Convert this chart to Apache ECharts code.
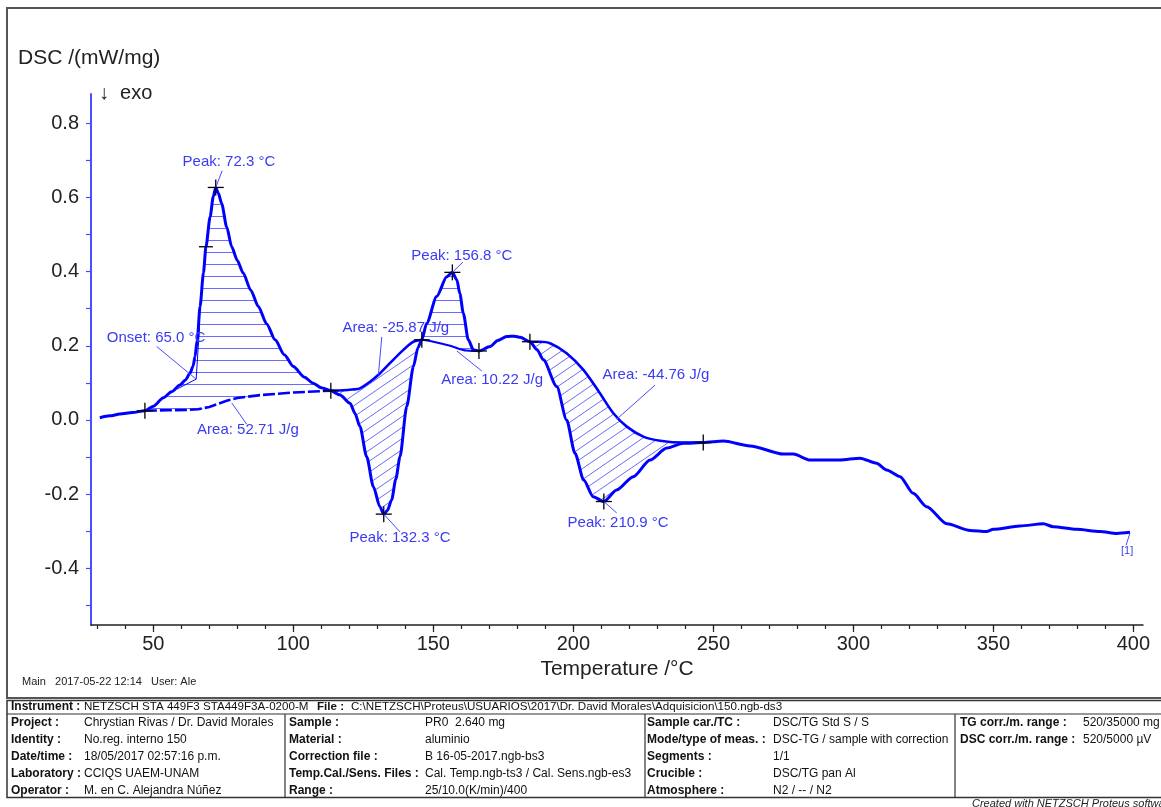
<!DOCTYPE html>
<html>
<head>
<meta charset="utf-8">
<script src="https://cdn.jsdelivr.net/npm/echarts@6/dist/echarts.min.js"></script>
<style>
  html, body { margin: 0; padding: 0; background: #fff; }
  #chart { width: 1161px; height: 807px; }
</style>
</head>
<body>
<div id="chart"></div>
<script>
// DSC signal (temperature °C, mW/mg)
const dscCurve = [
  [30.9,0.006],[34.5,0.011],[38.1,0.016],[42.5,0.020],[47.0,0.025],[50.0,0.037],[53.6,0.060],[56.5,0.076],
  [59.5,0.094],[61.5,0.108],[63.1,0.126],[64.2,0.145],[64.9,0.171],[65.7,0.216],[66.7,0.306],[67.9,0.396],
  [68.8,0.467],[70.3,0.548],[71.4,0.602],[72.3,0.627],[73.2,0.612],[74.4,0.584],[76.2,0.521],[78.0,0.467],
  [80.0,0.430],[82.1,0.396],[84.8,0.350],[87.5,0.306],[90.5,0.259],[93.5,0.216],[96.8,0.176],[100.0,0.144],
  [104.0,0.115],[107.1,0.099],[110.0,0.087],[113.4,0.079],
  [116.7,0.067],[120.3,0.045],[122.0,0.018],[123.8,-0.018],[126.2,-0.099],[128.6,-0.180],[130.9,-0.234],
  [132.3,-0.254],[133.6,-0.244],[135.1,-0.216],[136.6,-0.160],[138.1,-0.099],[140.5,0.036],[142.9,0.144],
  [144.5,0.195],[145.9,0.216],
  [147.6,0.260],[151.2,0.333],[154.8,0.386],[156.8,0.398],[158.4,0.378],[159.5,0.340],[160.7,0.288],
  [162.5,0.216],[164.3,0.189],[166.3,0.186],
  [170.3,0.198],[173.0,0.214],[176.2,0.225],[179.0,0.226],[181.0,0.223],[184.5,0.211],
  [187.0,0.190],[189.3,0.162],[194.1,0.090],[197.6,0.000],[200.6,-0.090],[203.7,-0.162],[207.1,-0.207],
  [210.9,-0.220],[215.5,-0.189],[221.4,-0.153],[227.4,-0.108],[233.4,-0.076],[239.3,-0.063],[246.4,-0.061],
  [253.6,-0.057],[263.1,-0.070],[275.0,-0.092],[278.6,-0.092],[284.5,-0.108],[295.2,-0.108],[302.4,-0.103],
  [308.3,-0.117],[311.9,-0.135],[316.7,-0.153],[321.4,-0.198],[326.2,-0.234],[333.4,-0.280],[341.7,-0.298],
  [347.6,-0.301],[350.0,-0.295],[359.5,-0.286],[367.9,-0.280],[371.4,-0.288],[379.8,-0.295],[388.1,-0.301],
  [394.1,-0.306],[398.8,-0.303]
];

// integration baselines of the four evaluated effects
const baseline1 = [[47.0,0.025],[55,0.026],[62,0.027],[66,0.029],[70,0.035],[73,0.043],[76.2,0.052],[80,0.059],[88.1,0.067],[100,0.074],[113.4,0.079]];
const baseline2 = [[113.4,0.079],[118,0.080],[121,0.082],[123.8,0.085],[127.4,0.103],[131,0.126],[134.5,0.153],[139.3,0.189],[142.9,0.211],[145.9,0.216]];
const baseline3 = [[145.9,0.216],[150,0.211],[156,0.200],[161.9,0.187],[166.3,0.186]];
const baseline4 = [[184.5,0.211],[188,0.211],[191.7,0.207],[197.6,0.180],[203.6,0.135],[209.5,0.072],[214.3,0.018],[219.1,-0.018],[225,-0.045],[231,-0.056],[239.3,-0.061],[246.4,-0.061]];

// evaluation limits and peak points
const crossPoints = [[47.0,0.025],[72.3,0.627],[113.4,0.079],[132.3,-0.254],[145.9,0.216],[156.8,0.398],[166.3,0.186],[184.5,0.211],[210.9,-0.220],[246.4,-0.061]];
const inflectionPoints = [[68.8,0.467]];
const onsetPoint = [65.3,0.110];

// axis ticks
const xLabelValues = [50,100,150,200,250,300,350,400];
const xMinorValues = [30,40,50,60,70,80,90,100,110,120,130,140,150,160,170,180,190,200,210,220,230,240,250,260,270,280,290,300,310,320,330,340,350,360,370,380,390,400];
const yLabelValues = [-0.4,-0.2,0,0.2,0.4,0.6,0.8];
const yTickValues = [-0.5,-0.4,-0.3,-0.2,-0.1,0,0.1,0.2,0.3,0.4,0.5,0.6,0.7,0.8];

// result texts
const noteTexts = ['Peak: 72.3 °C','Onset: 65.0 °C','Area: 52.71 J/g','Area: -25.87 J/g','Area: 10.22 J/g',
  'Peak: 156.8 °C','Peak: 132.3 °C','Area: -44.76 J/g','Peak: 210.9 °C','[1]'];

// where each result text sits and where its leader points (data units)
const noteLayout = [
  {at:[77.0,0.696],  from:[74.6,0.672],  to:[72.3,0.627]},
  {at:[51.0,0.221],  from:[51.2,0.198],  to:[65.3,0.110]},
  {at:[83.8,-0.027], from:[83.4,-0.012], to:[78.0,0.046]},
  {at:[136.6,0.248], from:[131.6,0.224], to:[130.4,0.122]},
  {at:[171.0,0.108], from:[167.3,0.132], to:[158.4,0.186]},
  {at:[160.2,0.442], from:[160.6,0.426], to:[156.8,0.398]},
  {at:[138.1,-0.318],from:[138.1,-0.302],to:[132.3,-0.254]},
  {at:[229.5,0.121], from:[229.2,0.094], to:[215.5,0.002]},
  {at:[216.0,-0.278],from:[215.5,-0.251],to:[210.9,-0.220]},
  {at:[397.8,-0.353],from:[397.4,-0.338],to:[398.8,-0.305]}
];

const hatchRegions = [
  {from:47.0,  to:113.4, base:baseline1, hatch:'h'},
  {from:113.4, to:145.9, base:baseline2, hatch:'d'},
  {from:145.9, to:166.3, base:baseline3, hatch:'h'},
  {from:184.5, to:246.4, base:baseline4, hatch:'d'}
];

const BLUE = '#0000ff';
const TEXT_BLUE = '#3b3bf2';
const FONT = "'Liberation Sans', Arial, sans-serif";

function makeHatch(kind) {
  const c = document.createElement('canvas');
  const w = kind === 'h' ? 8 : 16;
  const h = kind === 'h' ? 12 : 11;
  c.width = w; c.height = h;
  const ctx = c.getContext('2d');
  ctx.strokeStyle = '#6a6aff';
  ctx.lineWidth = 1;
  ctx.beginPath();
  if (kind === 'h') {
    ctx.moveTo(0, 0.5); ctx.lineTo(w, 0.5);
  } else {
    ctx.moveTo(-w, 2 * h); ctx.lineTo(2 * w, -h);
    ctx.moveTo(-2 * w, 2 * h); ctx.lineTo(w, -h);
    ctx.moveTo(0, 2 * h); ctx.lineTo(3 * w, -h);
  }
  ctx.stroke();
  return c;
}
const patterns = { h: makeHatch('h'), d: makeHatch('d') };

const chart = echarts.init(document.getElementById('chart'), null, { renderer: 'canvas' });

function tableText(x, y, text, bold, size) {
  return { type: 'text', x: x, y: y, style: { text: text, font: (bold ? 'bold ' : '') + (size || 12) + 'px ' + FONT, fill: '#111', verticalAlign: 'middle' } };
}

const tableRows = [
  [['Project :','Chrystian Rivas / Dr. David Morales'],['Sample :','PR0  2.640 mg'],['Sample car./TC :','DSC/TG Std S / S'],['TG corr./m. range :','520/35000 mg']],
  [['Identity :','No.reg. interno 150'],['Material :','aluminio'],['Mode/type of meas. :','DSC-TG / sample with correction'],['DSC corr./m. range :','520/5000 µV']],
  [['Date/time :','18/05/2017 02:57:16 p.m.'],['Correction file :','B 16-05-2017.ngb-bs3'],['Segments :','1/1'],null],
  [['Laboratory :','CCIQS UAEM-UNAM'],['Temp.Cal./Sens. Files :','Cal. Temp.ngb-ts3 / Cal. Sens.ngb-es3'],['Crucible :','DSC/TG pan Al'],null],
  [['Operator :','M. en C. Alejandra Núñez'],['Range :','25/10.0(K/min)/400'],['Atmosphere :','N2 / -- / N2'],null]
];
const colLabelX = [11, 289, 647, 960];
const colValueX = [84, 425, 773, 1083];
const tableGraphics = [];
tableRows.forEach((row, r) => {
  const y = 723 + r * 16.8;
  row.forEach((cell, c) => {
    if (!cell) return;
    tableGraphics.push(tableText(colLabelX[c], y, cell[0], true));
    tableGraphics.push(tableText(colValueX[c], y, cell[1], false));
  });
});
tableGraphics.push(tableText(11, 707, 'Instrument :', true));
tableGraphics.push(tableText(84, 707, 'NETZSCH STA 449F3 STA449F3A-0200-M', false, 11.6));
tableGraphics.push(tableText(317, 707, 'File :', true, 11.6));
tableGraphics.push(tableText(351, 707, 'C:\\NETZSCH\\Proteus\\USUARIOS\\2017\\Dr. David Morales\\Adquisicion\\150.ngb-ds3', false, 11.6));

const option = {
  animation: false,
  backgroundColor: '#fff',
  grid: { left: 91, top: 94, width: 1052, height: 531, containLabel: false },
  xAxis: [
    {
      type: 'value', min: 27.75, max: 403.45,
      name: 'Temperature /°C', nameLocation: 'middle', nameGap: 31,
      nameTextStyle: { fontSize: 21, color: '#222', fontFamily: FONT },
      axisLine: { show: true, onZero: false, lineStyle: { color: '#222', width: 1.5 } },
      axisTick: { show: true, length: 7, customValues: xLabelValues, lineStyle: { color: '#222', width: 1.2 } },
      axisLabel: { customValues: xLabelValues, fontSize: 20, color: '#222', fontFamily: FONT, margin: 9 },
      splitLine: { show: false }
    },
    {
      type: 'value', min: 27.75, max: 403.45, position: 'bottom',
      axisLine: { show: false, onZero: false },
      axisTick: { show: true, length: 4, customValues: xMinorValues, lineStyle: { color: '#222', width: 1.2 } },
      axisLabel: { show: false },
      splitLine: { show: false }
    }
  ],
  yAxis: {
    type: 'value', min: -0.553, max: 0.879,
    axisLine: { show: true, onZero: false, lineStyle: { color: '#4d4dff', width: 2 } },
    axisTick: { show: true, length: 5, customValues: yTickValues, lineStyle: { color: '#4d4dff', width: 1.2 } },
    axisLabel: { customValues: yLabelValues, fontSize: 20, color: '#222', fontFamily: FONT, margin: 12,
      formatter: v => (Math.abs(v) < 1e-9 ? 0 : v).toFixed(1) },
    splitLine: { show: false }
  },
  graphic: [
    { type: 'rect', shape: { x: 7, y: 8, width: 1170, height: 690 }, style: { fill: 'none', stroke: '#555', lineWidth: 2 }, silent: true },
    { type: 'rect', shape: { x: 7, y: 700.5, width: 1170, height: 97 }, style: { fill: 'none', stroke: '#333', lineWidth: 1.5 }, silent: true },
    { type: 'line', shape: { x1: 7, y1: 714, x2: 1170, y2: 714 }, style: { stroke: '#333', lineWidth: 1.2 } },
    { type: 'line', shape: { x1: 285, y1: 714, x2: 285, y2: 797 }, style: { stroke: '#333', lineWidth: 1.2 } },
    { type: 'line', shape: { x1: 645, y1: 714, x2: 645, y2: 797 }, style: { stroke: '#333', lineWidth: 1.2 } },
    { type: 'line', shape: { x1: 955, y1: 714, x2: 955, y2: 797 }, style: { stroke: '#333', lineWidth: 1.2 } },
    { type: 'text', x: 18, y: 58, style: { text: 'DSC /(mW/mg)', font: '21px ' + FONT, fill: '#222', verticalAlign: 'middle' } },
    { type: 'text', x: 99, y: 93, style: { text: '↓  exo', font: '20px ' + FONT, fill: '#222', verticalAlign: 'middle' } },
    { type: 'text', x: 22, y: 682, style: { text: 'Main   2017-05-22 12:14   User: Ale', font: '11px ' + FONT, fill: '#222', verticalAlign: 'middle' } },
    { type: 'text', x: 972, y: 804, style: { text: 'Created with NETZSCH Proteus software', font: 'italic 11px ' + FONT, fill: '#222', verticalAlign: 'middle' } }
  ].concat(tableGraphics),
  series: [
    {
      // hatched peak areas between signal and baseline
      type: 'custom', xAxisIndex: 0, yAxisIndex: 0, z: 1, silent: true,
      data: hatchRegions.map(r => [r.from, r.base[0][1]]),
      renderItem: (params, api) => {
        const r = hatchRegions[params.dataIndex];
        const upper = dscCurve.filter(p => p[0] >= r.from - 1e-6 && p[0] <= r.to + 1e-6);
        const pts = upper.concat(r.base.slice().reverse()).map(p => api.coord(p));
        return { type: 'polygon', shape: { points: pts },
          style: { fill: { image: patterns[r.hatch], repeat: 'repeat' }, stroke: null } };
      }
    },
    {
      type: 'line', name: 'baseline1', data: baseline1, showSymbol: false, z: 3,
      lineStyle: { color: BLUE, width: 2.6, type: [12, 3] }
    },
    { type: 'line', name: 'baseline2', data: baseline2, showSymbol: false, z: 3, smooth: 0.3, lineStyle: { color: BLUE, width: 2.6 } },
    { type: 'line', name: 'baseline3', data: baseline3, showSymbol: false, z: 3, smooth: 0.3, lineStyle: { color: BLUE, width: 2 } },
    { type: 'line', name: 'baseline4', data: baseline4, showSymbol: false, z: 3, smooth: 0.3, lineStyle: { color: BLUE, width: 2.6 } },
    {
      type: 'line', name: 'DSC', data: dscCurve, showSymbol: false, z: 4,
      smooth: 0.25, smoothMonotone: 'x',
      lineStyle: { color: BLUE, width: 3 }
    },
    {
      // onset construction: extrapolated baseline and inflection tangent
      type: 'custom', z: 5, silent: true,
      data: [onsetPoint],
      renderItem: (params, api) => {
        const o = api.coord(onsetPoint);
        const a = api.coord([58.4, 0.083]);
        const b = api.coord([66.5, 0.25]);
        return { type: 'group', children: [
          { type: 'line', shape: { x1: a[0], y1: a[1], x2: o[0], y2: o[1] }, style: { stroke: BLUE, lineWidth: 1 } },
          { type: 'line', shape: { x1: o[0], y1: o[1], x2: b[0], y2: b[1] }, style: { stroke: BLUE, lineWidth: 1 } }
        ] };
      }
    },
    {
      // evaluation markers
      type: 'custom', z: 6, silent: true,
      data: crossPoints,
      renderItem: (params, api) => {
        const p = api.coord([api.value(0), api.value(1)]);
        const s = 8;
        return { type: 'group', children: [
          { type: 'line', shape: { x1: p[0] - s, y1: p[1], x2: p[0] + s, y2: p[1] }, style: { stroke: '#000', lineWidth: 1.3 } },
          { type: 'line', shape: { x1: p[0], y1: p[1] - s, x2: p[0], y2: p[1] + s }, style: { stroke: '#000', lineWidth: 1.3 } }
        ] };
      }
    },
    {
      type: 'custom', z: 6, silent: true,
      data: inflectionPoints,
      renderItem: (params, api) => {
        const p = api.coord([api.value(0), api.value(1)]);
        return { type: 'line', shape: { x1: p[0] - 7, y1: p[1], x2: p[0] + 7, y2: p[1] }, style: { stroke: '#000', lineWidth: 1.3 } };
      }
    },
    {
      // result texts with leader lines
      type: 'custom', z: 7, silent: true,
      data: noteLayout.map(n => n.at),
      renderItem: (params, api) => {
        const n = noteLayout[params.dataIndex];
        const t = noteTexts[params.dataIndex];
        const at = api.coord(n.at), f = api.coord(n.from), to = api.coord(n.to);
        const small = t === '[1]';
        return { type: 'group', children: [
          { type: 'line', shape: { x1: f[0], y1: f[1], x2: to[0], y2: to[1] }, style: { stroke: '#4a4aff', lineWidth: 1 } },
          { type: 'text', x: at[0], y: at[1], style: { text: t, font: (small ? '11px ' : '15px ') + FONT,
            fill: TEXT_BLUE, align: 'center', verticalAlign: 'middle' } }
        ] };
      }
    }
  ]
};

chart.setOption(option);
</script>
</body>
</html>
